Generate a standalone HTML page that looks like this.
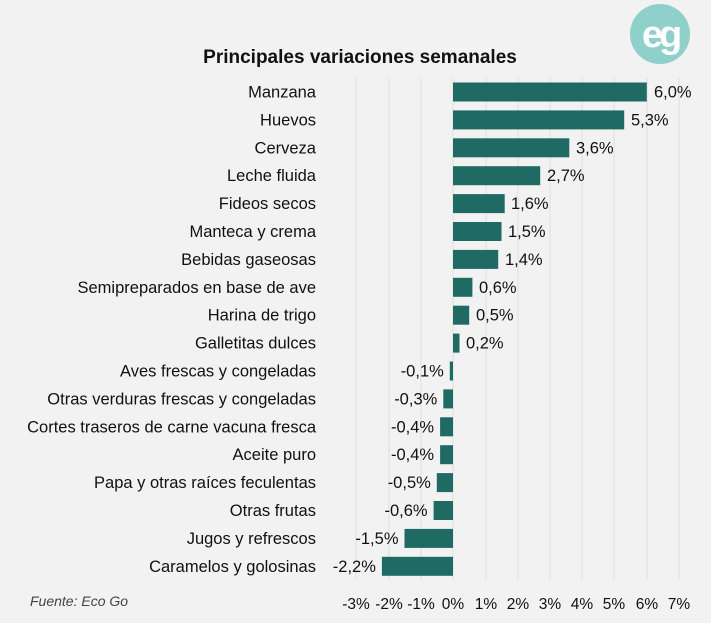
<!DOCTYPE html>
<html><head><meta charset="utf-8"><style>
body{margin:0;background:#f2f2f2;}
svg{display:block;font-family:"Liberation Sans",sans-serif;}
</style></head><body>
<svg width="711" height="623" xmlns="http://www.w3.org/2000/svg">
<rect width="711" height="623" fill="#f2f2f2"/>
<circle cx="660" cy="34" r="30" fill="#8fd0ca"/>
<text x="660" y="47" text-anchor="middle" font-size="38" fill="#fff" font-weight="bold" letter-spacing="-4">eg</text>
<text x="360" y="63" text-anchor="middle" font-size="19" font-weight="bold" fill="#111">Principales variaciones semanales</text>
<g stroke="#dedede" stroke-width="1">
<line x1="356" y1="78" x2="356" y2="580"/><line x1="389" y1="78" x2="389" y2="580"/><line x1="421" y1="78" x2="421" y2="580"/><line x1="453" y1="78" x2="453" y2="580"/><line x1="486" y1="78" x2="486" y2="580"/><line x1="518" y1="78" x2="518" y2="580"/><line x1="550" y1="78" x2="550" y2="580"/><line x1="582" y1="78" x2="582" y2="580"/><line x1="614" y1="78" x2="614" y2="580"/><line x1="647" y1="78" x2="647" y2="580"/><line x1="679" y1="78" x2="679" y2="580"/>
</g>
<g fill="#1f6b63">
<rect x="453" y="82.5" width="193.8" height="19"/>
<rect x="453" y="110.4" width="171.2" height="19"/>
<rect x="453" y="138.3" width="116.3" height="19"/>
<rect x="453" y="166.2" width="87.2" height="19"/>
<rect x="453" y="194.1" width="51.7" height="19"/>
<rect x="453" y="222" width="48.5" height="19"/>
<rect x="453" y="249.9" width="45.2" height="19"/>
<rect x="453" y="277.8" width="19.4" height="19"/>
<rect x="453" y="305.7" width="16.2" height="19"/>
<rect x="453" y="333.6" width="6.5" height="19"/>
<rect x="449.8" y="361.5" width="3.2" height="19"/>
<rect x="443.3" y="389.4" width="9.7" height="19"/>
<rect x="440.1" y="417.3" width="12.9" height="19"/>
<rect x="440.1" y="445.2" width="12.9" height="19"/>
<rect x="436.8" y="473.1" width="16.2" height="19"/>
<rect x="433.6" y="501" width="19.4" height="19"/>
<rect x="404.5" y="528.9" width="48.5" height="19"/>
<rect x="381.9" y="556.8" width="71.1" height="19"/>
</g>
<g font-size="16.5" fill="#111" text-anchor="end">
<text x="316" y="97.5">Manzana</text>
<text x="316" y="125.4">Huevos</text>
<text x="316" y="153.3">Cerveza</text>
<text x="316" y="181.2">Leche fluida</text>
<text x="316" y="209.1">Fideos secos</text>
<text x="316" y="237">Manteca y crema</text>
<text x="316" y="264.9">Bebidas gaseosas</text>
<text x="316" y="292.8">Semipreparados en base de ave</text>
<text x="316" y="320.7">Harina de trigo</text>
<text x="316" y="348.6">Galletitas dulces</text>
<text x="316" y="376.5">Aves frescas y congeladas</text>
<text x="316" y="404.4">Otras verduras frescas y congeladas</text>
<text x="316" y="432.3">Cortes traseros de carne vacuna fresca</text>
<text x="316" y="460.2">Aceite puro</text>
<text x="316" y="488.1">Papa y otras raíces feculentas</text>
<text x="316" y="516">Otras frutas</text>
<text x="316" y="543.9">Jugos y refrescos</text>
<text x="316" y="571.8">Caramelos y golosinas</text>
<text x="443.8" y="376.5">-0,1%</text>
<text x="437.3" y="404.4">-0,3%</text>
<text x="434.1" y="432.3">-0,4%</text>
<text x="434.1" y="460.2">-0,4%</text>
<text x="430.8" y="488.1">-0,5%</text>
<text x="427.6" y="516">-0,6%</text>
<text x="398.5" y="543.9">-1,5%</text>
<text x="375.9" y="571.8">-2,2%</text>
</g>
<g font-size="16.5" fill="#111">
<text x="654" y="97.5">6,0%</text>
<text x="631" y="125.4">5,3%</text>
<text x="576" y="153.3">3,6%</text>
<text x="547" y="181.2">2,7%</text>
<text x="511" y="209.1">1,6%</text>
<text x="508" y="237">1,5%</text>
<text x="505" y="264.9">1,4%</text>
<text x="479" y="292.8">0,6%</text>
<text x="476" y="320.7">0,5%</text>
<text x="466" y="348.6">0,2%</text>
</g>
<g font-size="15.5" fill="#111" text-anchor="middle">
<text x="356" y="609">-3%</text><text x="389" y="609">-2%</text><text x="421" y="609">-1%</text><text x="453" y="609">0%</text><text x="486" y="609">1%</text><text x="518" y="609">2%</text><text x="550" y="609">3%</text><text x="582" y="609">4%</text><text x="614" y="609">5%</text><text x="647" y="609">6%</text><text x="679" y="609">7%</text>
</g>
<text x="30" y="606" font-size="14" font-style="italic" fill="#444">Fuente: Eco Go</text>
</svg>
</body></html>
